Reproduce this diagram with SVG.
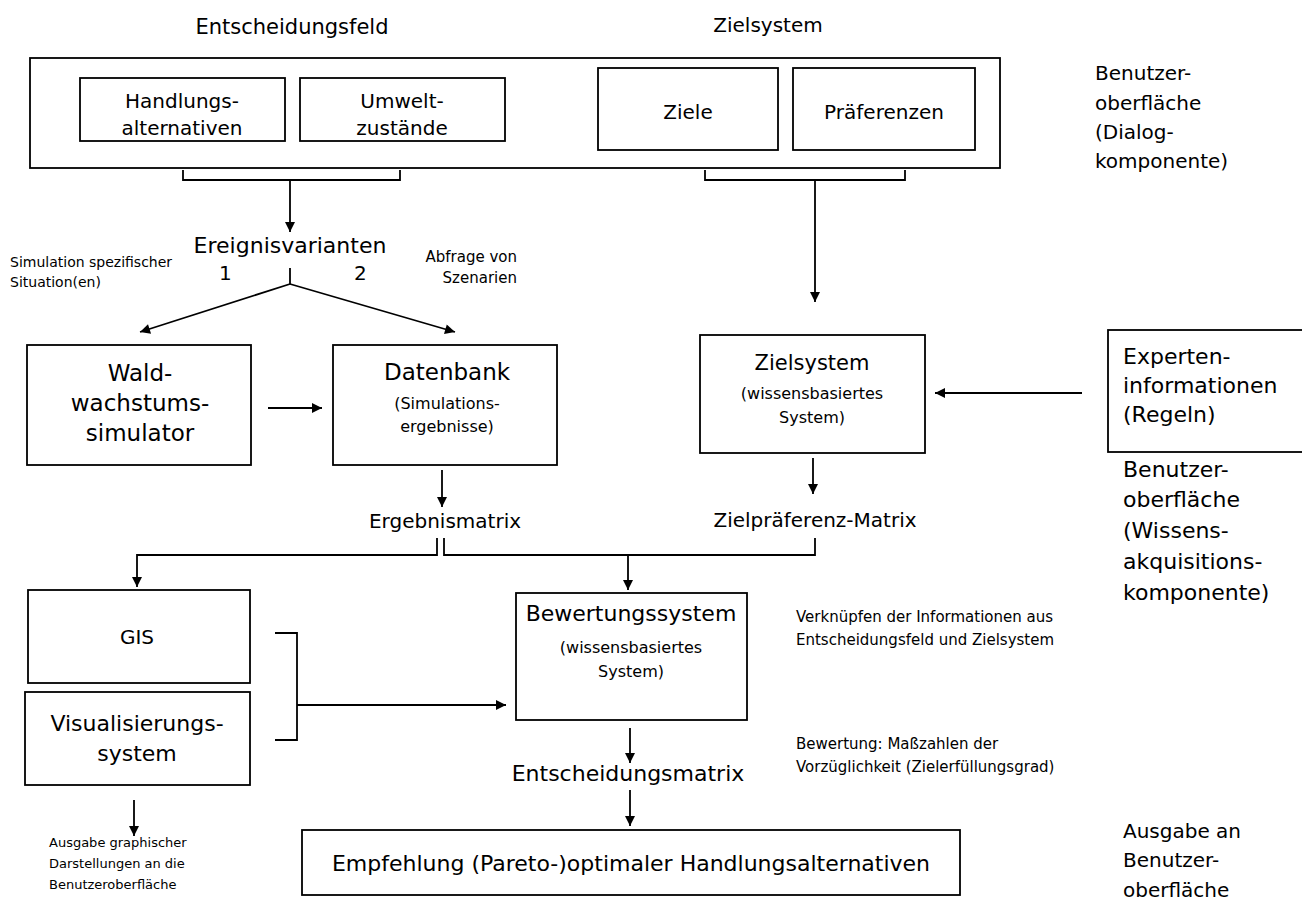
<svg xmlns="http://www.w3.org/2000/svg" width="1302" height="902" viewBox="0 0 1302 902">
<defs>
<marker id="ah" viewBox="0 0 10 10" refX="10" refY="5" markerWidth="12" markerHeight="10" markerUnits="userSpaceOnUse" orient="auto">
<path d="M0,0 L10,5 L0,10 z" fill="#000"/>
</marker>
</defs>
<style>
text{font-family:"DejaVu Sans","Liberation Sans",sans-serif;fill:#000}
.t{font-size:20px}
.t2{font-size:21px}
.r{font-size:22px}
.l{font-size:22px}
.xl{font-size:23px}
.s{font-size:13px}
.s2{font-size:14px}
.n{font-size:15px}
.m{font-size:16px}
.c{text-anchor:middle}
.e{text-anchor:end}
.box{fill:none;stroke:#000;stroke-width:1.8}
.cn path{fill:none;stroke:#000;stroke-width:1.8}
.ar{marker-end:url(#ah)}
</style>
<rect x="0" y="0" width="1302" height="902" fill="#fff"/>
<g id="titles">
<text class="t2 c" x="292" y="34">Entscheidungsfeld</text>
<text class="t c" x="768" y="32">Zielsystem</text>
</g>
<g id="ui-dialog">
<rect class="box" x="30" y="58" width="970" height="110"/>
</g>
<g id="handlungsalternativen">
<rect class="box" x="80" y="78" width="205" height="63"/>
<text class="t c" x="182" y="108">Handlungs-</text>
<text class="t c" x="182" y="135">alternativen</text>
</g>
<g id="umweltzustaende">
<rect class="box" x="300" y="78" width="205" height="63"/>
<text class="t c" x="402" y="108">Umwelt-</text>
<text class="t c" x="402" y="135">zustände</text>
</g>
<g id="ziele">
<rect class="box" x="598" y="68" width="180" height="82"/>
<text class="t c" x="688" y="119">Ziele</text>
</g>
<g id="praeferenzen">
<rect class="box" x="793" y="68" width="182" height="82"/>
<text class="t c" x="884" y="119">Präferenzen</text>
</g>
<g id="label-dialog">
<text class="t" x="1095" y="80">Benutzer-</text>
<text class="t" x="1095" y="110">oberfläche</text>
<text class="t" x="1095" y="139">(Dialog-</text>
<text class="t" x="1095" y="168">komponente)</text>
</g>
<g id="ereignisvarianten">
<text class="l c" x="290" y="253">Ereignisvarianten</text>
</g>
<g id="branch-labels">
<text class="t" x="219" y="280">1</text>
<text class="t" x="354" y="280">2</text>
<text class="s2" x="10" y="267">Simulation spezifischer</text>
<text class="s2" x="10" y="287">Situation(en)</text>
<text class="n e" x="517" y="262">Abfrage von</text>
<text class="n e" x="517" y="283">Szenarien</text>
</g>
<g id="waldwachstumssimulator">
<rect class="box" x="27" y="345" width="224" height="120"/>
<text class="xl c" x="140" y="381">Wald-</text>
<text class="xl c" x="140" y="411">wachstums-</text>
<text class="xl c" x="140" y="441">simulator</text>
</g>
<g id="datenbank">
<rect class="box" x="333" y="345" width="224" height="120"/>
<text class="xl c" x="447" y="380">Datenbank</text>
<text class="m c" x="447" y="409">(Simulations-</text>
<text class="m c" x="447" y="432">ergebnisse)</text>
</g>
<g id="zielsystem">
<rect class="box" x="700" y="335" width="225" height="118"/>
<text class="t2 c" x="812" y="370">Zielsystem</text>
<text class="m c" x="812" y="399">(wissensbasiertes</text>
<text class="m c" x="812" y="423">System)</text>
</g>
<g id="experteninformationen">
<rect class="box" x="1108" y="330" width="200" height="122"/>
<text class="r" x="1123" y="364">Experten-</text>
<text class="r" x="1123" y="393">informationen</text>
<text class="r" x="1123" y="422">(Regeln)</text>
</g>
<g id="label-wissen">
<text class="r" x="1123" y="477">Benutzer-</text>
<text class="r" x="1123" y="507">oberfläche</text>
<text class="r" x="1123" y="538">(Wissens-</text>
<text class="r" x="1123" y="569">akquisitions-</text>
<text class="r" x="1123" y="600">komponente)</text>
</g>
<g id="ergebnismatrix">
<text class="t c" x="445" y="528">Ergebnismatrix</text>
</g>
<g id="zielpraeferenzmatrix">
<text class="t c" x="815" y="527">Zielpräferenz-Matrix</text>
</g>
<g id="gis">
<rect class="box" x="28" y="590" width="222" height="93"/>
<text class="t c" x="137" y="644">GIS</text>
</g>
<g id="visualisierungssystem">
<rect class="box" x="25" y="692" width="225" height="93"/>
<text class="l c" x="137" y="731">Visualisierungs-</text>
<text class="l c" x="137" y="761">system</text>
</g>
<g id="ausgabe-grafik">
<text class="s" x="49" y="847">Ausgabe graphischer</text>
<text class="s" x="49" y="868">Darstellungen an die</text>
<text class="s" x="49" y="889">Benutzeroberfläche</text>
</g>
<g id="bewertungssystem">
<rect class="box" x="516" y="593" width="231" height="127"/>
<text class="l c" x="631" y="621">Bewertungssystem</text>
<text class="m c" x="631" y="653">(wissensbasiertes</text>
<text class="m c" x="631" y="677">System)</text>
</g>
<g id="note-verknuepfen">
<text class="n" x="796" y="622">Verknüpfen der Informationen aus</text>
<text class="n" x="796" y="645">Entscheidungsfeld und Zielsystem</text>
</g>
<g id="entscheidungsmatrix">
<text class="l c" x="628" y="781">Entscheidungsmatrix</text>
</g>
<g id="note-bewertung">
<text class="n" x="796" y="749">Bewertung: Maßzahlen der</text>
<text class="n" x="796" y="772">Vorzüglichkeit (Zielerfüllungsgrad)</text>
</g>
<g id="empfehlung">
<rect class="box" x="302" y="830" width="658" height="65"/>
<text class="l c" x="631" y="871">Empfehlung (Pareto-)optimaler Handlungsalternativen</text>
</g>
<g id="label-ausgabe">
<text class="t" x="1123" y="838">Ausgabe an</text>
<text class="t" x="1123" y="867">Benutzer-</text>
<text class="t" x="1123" y="897">oberfläche</text>
</g>
<g id="connectors" class="cn">
<path d="M183 170 V180 H400 V170"/>
<path class="ar" d="M290 180 V232"/>
<path d="M705 170 V180 H905 V170"/>
<path class="ar" d="M815 180 V302"/>
<path d="M290 268 V284"/>
<path class="ar" d="M290 284 L140 332"/>
<path class="ar" d="M290 284 L455 332"/>
<path class="ar" d="M268 408 H322"/>
<path class="ar" d="M1082 393 H935"/>
<path class="ar" d="M442 470 V507"/>
<path class="ar" d="M813 458 V494"/>
<path class="ar" d="M437 538 V555 H137 V587"/>
<path d="M444 538 V555 H815 V538"/>
<path class="ar" d="M628 555 V590"/>
<path d="M275 633 H297 V740 H275"/>
<path class="ar" d="M297 705 H506"/>
<path class="ar" d="M134 800 V836"/>
<path class="ar" d="M630 728 V763"/>
<path class="ar" d="M630 790 V826"/>
</g>
</svg>
